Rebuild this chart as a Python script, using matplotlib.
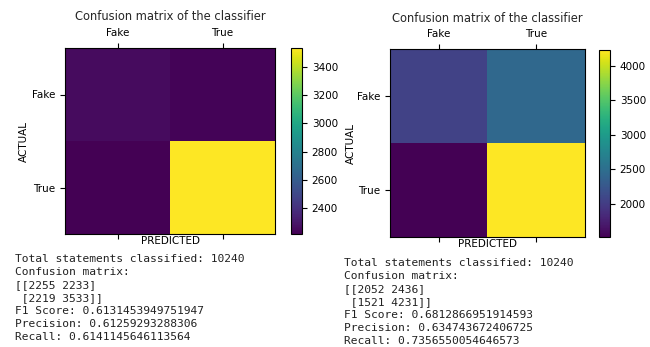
import numpy as np
import matplotlib
matplotlib.use('Agg')
import matplotlib.pyplot as plt

labels = ['Fake', 'True']
total = 10240

cm_left = [[2255, 2233], [2219, 3533]]
f1_left = '0.6131453949751947'
prec_left = '0.61259293288306'
rec_left = '0.6141145646113564'

cm_right = [[2052, 2436], [1521, 4231]]
f1_right = '0.6812866951914593'
prec_right = '0.634743672406725'
rec_right = '0.7356550054646573'

plt.rcParams['font.size'] = 7.5
plt.rcParams['text.color'] = '#262626'

fig = plt.figure(figsize=(6.5, 3.47), dpi=100)
W, H = 650.0, 347.0


def box(x0, y0, x1, y1):
    # pixel box (top-left origin) -> figure fraction
    return [x0 / W, 1 - y1 / H, (x1 - x0) / W, (y1 - y0) / H]


def draw(cm, ax_box, cb_box, title_y, text_x, text_y, f1, prec, rec, ylpad):
    ax = fig.add_axes(box(*ax_box))
    cax = fig.add_axes(box(*cb_box))
    im = ax.matshow(np.array(cm), cmap='viridis', aspect='auto')
    fig.colorbar(im, cax=cax)
    ax.set_xticks([0, 1])
    ax.set_yticks([0, 1])
    ax.set_xticklabels(labels)
    ax.set_yticklabels(labels)
    ax.xaxis.set_ticks_position('both')
    ax.set_xlabel('PREDICTED', labelpad=-2)
    ax.set_ylabel('ACTUAL', labelpad=ylpad)
    cx = (ax_box[0] + ax_box[2]) / 2
    fig.text(cx / W, 1 - title_y / H, 'Confusion matrix of the classifier',
             ha='center', va='center', fontsize=8.3)
    lines = ['Total statements classified: %d' % total,
             'Confusion matrix:',
             '[[%d %d]' % (cm[0][0], cm[0][1]),
             ' [%d %d]]' % (cm[1][0], cm[1][1]),
             'F1 Score: ' + f1,
             'Precision: ' + prec,
             'Recall: ' + rec]
    for i, s in enumerate(lines):
        fig.text(text_x / W, 1 - (text_y + 13 * i) / H, s,
                 family='DejaVu Sans Mono', fontsize=8.1, va='center',
                 color='#222222')


draw(cm_left, (65, 48, 275, 234), (291, 48, 302, 234), 17, 15, 259,
     f1_left, prec_left, rec_left, 2)
draw(cm_right, (390, 49, 585, 237), (599, 50, 610, 237), 19, 344, 263,
     f1_right, prec_right, rec_right, 1)

fig.savefig('out.png', dpi=100)
